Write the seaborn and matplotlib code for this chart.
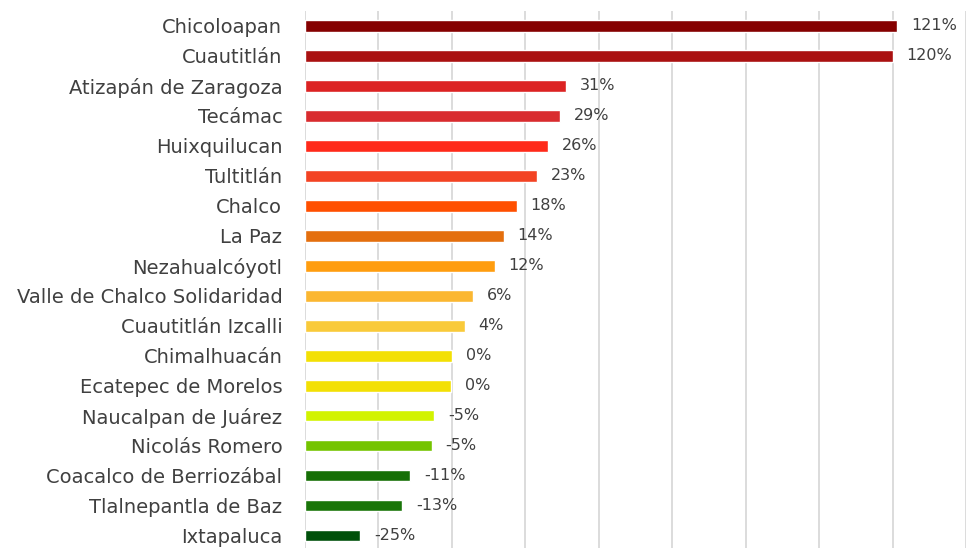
import numpy as np
import pandas as pd
import matplotlib
from matplotlib import pyplot as plt
import seaborn as sns

# Values (percent change)
municipios = ["Chicoloapan", "Cuautitlán", "Atizapán de Zaragoza", "Tecámac",
              "Huixquilucan", "Tultitlán", "Chalco", "La Paz", "Nezahualcóyotl",
              "Valle de Chalco Solidaridad", "Cuautitlán Izcalli", "Chimalhuacán",
              "Ecatepec de Morelos", "Naucalpan de Juárez", "Nicolás Romero",
              "Coacalco de Berriozábal", "Tlalnepantla de Baz", "Ixtapaluca"]
cambio = [121.3, 120.0, 31.1, 29.4, 26.3, 23.3, 17.7, 14.2, 11.7,
          5.7, 3.6, 0.2, -0.2, -4.7, -5.4, -11.3, -13.4, -24.8]
colores = ["#850000", "#AA1111", "#DC2323", "#D92C2F", "#FF2A1A", "#F34323",
           "#FF4F00", "#E46F0E", "#FF9D0F", "#FBB731", "#F9CA3A", "#F3E005",
           "#F3E005", "#D2F300", "#74C400", "#166F06", "#1A7509", "#00500A"]

sns.set_style("white")
plt.rcParams['font.family'] = ['DejaVu Sans']

df = pd.DataFrame({"municipio": municipios, "cambio": cambio})
x_min = -40

fig = plt.figure(figsize=(9.73, 5.48), dpi=100)
ax = fig.add_axes([0.313, -0.005, 0.68, 0.985])

# bars start at the left edge of the axis (Excel-style minimum)
sns.barplot(data=df, y="municipio", x="cambio", hue="municipio",
            palette=colores, legend=False, width=0.38, ax=ax,
            saturation=1, orient="h")
for p, v in zip(ax.patches, cambio):
    p.set_x(x_min)
    p.set_width(v - x_min)

ax.set_xlim(x_min, 140)
ax.set_ylim(len(municipios) - 0.5, -0.5)
ax.set_xticks(np.arange(-40, 141, 20))
ax.set_xticklabels([])
ax.grid(axis='x', color='#d9d9d9', linewidth=1.3)
ax.set_axisbelow(True)
ax.tick_params(axis='both', length=0)
ax.tick_params(axis='y', labelsize=14, labelcolor='#404040', pad=16)
for s in ax.spines.values():
    s.set_visible(False)
ax.set_xlabel("")
ax.set_ylabel("")

for i, v in enumerate(cambio):
    ax.annotate(f"{round(v):.0f}%", xy=(v, i), xytext=(10, 0),
                textcoords='offset points', va='center', ha='left',
                fontsize=11.5, color='#404040')

plt.savefig('out.png', dpi=100)
